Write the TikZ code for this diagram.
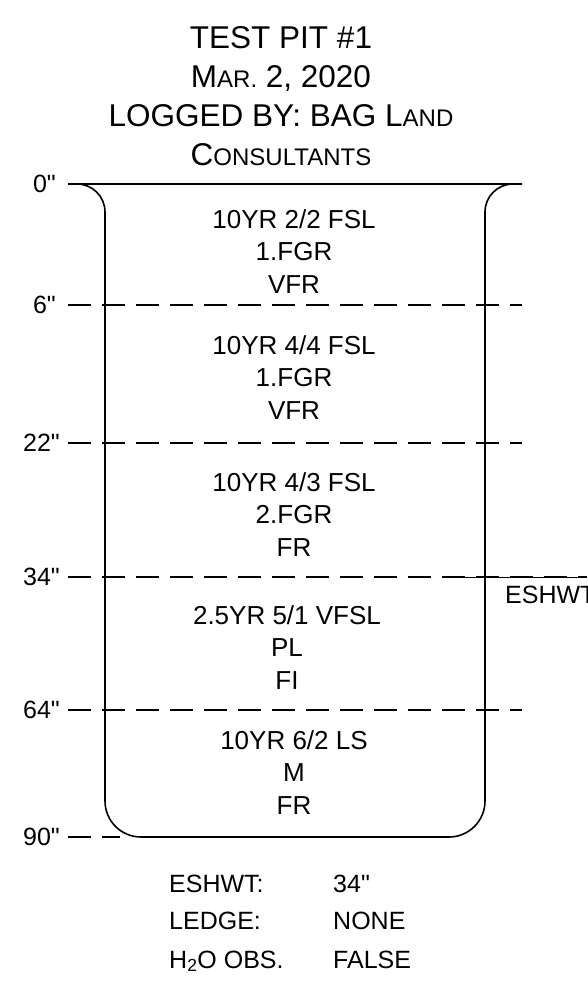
\documentclass[tikz,border=0pt]{standalone}
\usepackage{fontspec}
\setmainfont{Liberation Sans}[Ligatures=TeXOff]
\newcommand{\lowcaps}[1]{{\fontsize{24pt}{28pt}\selectfont #1}}
\newcommand{\inch}{\char"22\relax}

\begin{document}
\begin{tikzpicture}[
    x=1pt, y=-1pt,
    wall/.style={line width=1.6pt, line join=round},
    depthline/.style={line width=1.4pt, dash pattern=on 23pt off 11pt},
    title/.style={font=\fontsize{31.5pt}{36pt}\selectfont, anchor=base, inner sep=0pt},
    layer/.style={font=\fontsize{26pt}{32.5pt}\selectfont, align=center, anchor=north, inner sep=0pt},
    depthlabel/.style={font=\fontsize{25pt}{28pt}\selectfont, anchor=east, inner sep=0pt},
    info/.style={font=\fontsize{25pt}{28pt}\selectfont, anchor=base west, inner sep=0pt}
]
\useasboundingbox (0,0) rectangle (587,993);

% title block
\node[title] (t1) at (281,48) {TEST PIT \#1};
\node[title] (t2) at (281,87) {M\lowcaps{AR.} 2, 2020};
\node[title] (t3) at (281,126) {LOGGED BY: BAG L\lowcaps{AND}};
\node[title] (t4) at (281,165) {C\lowcaps{ONSULTANTS}};

% pit outline
\draw[wall] (68,184) -- (522,184);
\draw[wall, rounded corners=28pt] (68,184) -- (105,184) -- (105,600);
\draw[wall, rounded corners=28pt] (485,600) -- (485,184) -- (522,184);
\draw[wall, rounded corners=36pt] (105,590) -- (105,837) -- (485,837) -- (485,590);

% horizon boundaries
\coordinate (b6l) at (68,305);   \coordinate (b6r) at (522,305);
\coordinate (b22l) at (68,443);  \coordinate (b22r) at (522,443);
\coordinate (b34l) at (68,577);  \coordinate (b34r) at (587,577);
\coordinate (b64l) at (68,710);  \coordinate (b64r) at (522,710);
\coordinate (b90l) at (68,837);  \coordinate (b90r) at (120,837);
\draw[depthline] (b6l) -- (b6r);
\draw[depthline] (b22l) -- (b22r);
\draw[depthline] (b34l) -- (b34r);
\draw[depthline] (b64l) -- (b64r);
\draw[depthline] (b90l) -- (b90r);
\draw[line width=0.6pt] (464,577) -- (b34r);

% depth labels
\node[depthlabel] (d0) at (56,184) {0\inch};
\node[depthlabel] (d6) at (56,305) {6\inch};
\node[depthlabel] (d22) at (60,443) {22\inch};
\node[depthlabel] (d34) at (60,577) {34\inch};
\node[depthlabel] (d64) at (60,710) {64\inch};
\node[depthlabel] (d90) at (60,837) {90\inch};
\node[info] (wt) at (505,603) {ESHWT};

% horizons
\node[layer] (h1) at (294,209) {10YR 2/2 FSL\\1.FGR\\VFR};
\node[layer] (h2) at (294,335) {10YR 4/4 FSL\\1.FGR\\VFR};
\node[layer] (h3) at (294,472) {10YR 4/3 FSL\\2.FGR\\FR};
\node[layer] (h4) at (287,605) {2.5YR 5/1 VFSL\\PL\\FI};
\node[layer] (h5) at (294,730) {10YR 6/2 LS\\M\\FR};

% summary
\node[info] (k1) at (169,892) {ESHWT:};
\node[info] (v1) at (333,892) {34\inch};
\node[info] (k2) at (169,929) {LEDGE:};
\node[info] (v2) at (333,929) {NONE};
\node[info] (k3) at (169,968) {H\textsubscript{2}O OBS.};
\node[info] (v3) at (333,968) {FALSE};
\end{tikzpicture}
\end{document}
